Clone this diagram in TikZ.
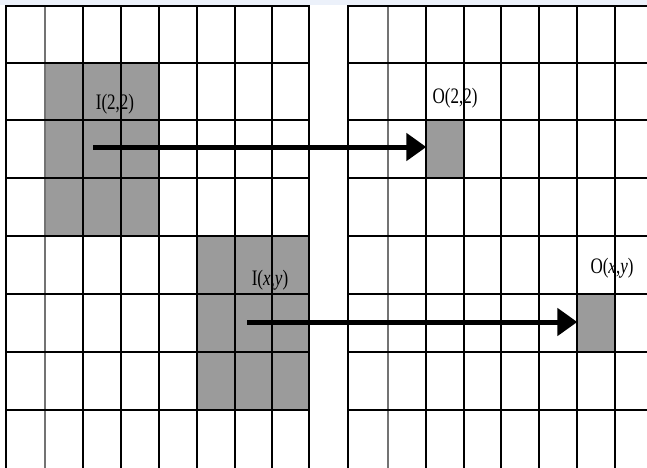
\documentclass[tikz,border=0pt]{standalone}
\usepackage{fontspec}
\usepackage{graphicx}
\setmainfont{Liberation Serif}
\usetikzlibrary{arrows.meta}
\definecolor{cellgray}{RGB}{155,155,155}
\definecolor{topband}{RGB}{236,241,250}
\newcommand{\tallt}[1]{\scalebox{1}[1.3]{#1}}
\tikzset{
  gridline/.style={line width=2.2pt, black},
  thingrid/.style={line width=1.2pt, black!55},
  shade/.style={fill=cellgray, draw=none},
  lbl/.style={font=\fontsize{17}{17}\selectfont, inner sep=0pt},
  bigarrow/.style={line width=5pt, -{Triangle[length=20pt,width=27pt]}},
  outcell/.style={rectangle, fill=cellgray, minimum width=37pt, minimum height=57pt, inner sep=0pt, draw=none}
}
\begin{document}
\begin{tikzpicture}[x=1pt,y=-1pt]
\useasboundingbox (0,0) rectangle (647,467);
\fill[white] (0,0) rectangle (647,467);
\fill[topband] (0,0) rectangle (647,5);
\begin{scope}
\clip (0,0) rectangle (647,467);
% shaded regions
\fill[shade] (45,63) rectangle (159,236);
\fill[shade] (197,236) rectangle (310,410);
\node[outcell] (o22) at (445,149) {};
\node[outcell] (oxy) at (596,323) {};
% labels
\node[lbl] (li22) at (115,104) {\tallt{I(2,2)}};
\node[lbl] (lixy) at (270,280) {\tallt{I(\textit{x},\textit{y})}};
\node[lbl] (lo22) at (455,98) {\tallt{O(2,2)}};
\node[lbl] (loxy) at (612,268) {\tallt{O(\textit{x},\textit{y})}};
% left grid
\foreach \x in {6,83,121,159,197,235,272,309} \draw[gridline] (\x,5) -- (\x,470);
\draw[thingrid] (45,5) -- (45,470);
\foreach \y in {6,63,120,178,236,294,352,410} \draw[gridline] (5,\y) -- (310,\y);
% right grid
\foreach \x in {348,426,464,501,539,577,615} \draw[gridline] (\x,5) -- (\x,470);
\draw[thingrid] (388,5) -- (388,470);
\foreach \y in {6,63,120,178,236,294,352,410} \draw[gridline] (347,\y) -- (650,\y);
% arrows
\coordinate (s1) at (93,147);
\coordinate (s2) at (247,322);
\draw[bigarrow] (s1) -- (o22.west |- s1);
\draw[bigarrow] (s2) -- (oxy.west |- s2);
\end{scope}
\end{tikzpicture}
\end{document}
